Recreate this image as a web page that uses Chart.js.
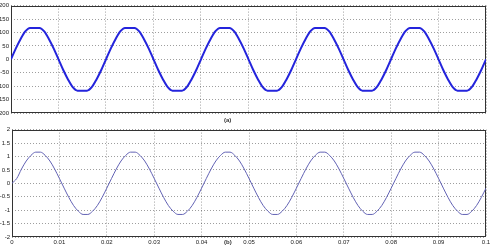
<!DOCTYPE html>
<html><head><meta charset="utf-8">
<script src="https://cdn.jsdelivr.net/npm/chart.js@4"></script>
<style>
html,body{margin:0;padding:0;background:#fff;overflow:hidden;width:493px;height:248px}
#a{position:absolute;left:0;top:0;width:493px;height:124px}
#b{position:absolute;left:0;top:124px;width:493px;height:124px}
.lbl{position:absolute;font:bold 6px "Liberation Sans",Arial,sans-serif;color:#333;line-height:7px}
</style></head><body>
<div id="a"><canvas id="ca"></canvas></div>
<div id="b"><canvas id="cb"></canvas></div>
<span class="lbl" id="la" style="left:224px;top:117px"></span>
<span class="lbl" id="lb" style="left:224px;top:239px"></span>
<script>
// ---- data (sampled every 0.001 s from t = 0 to 0.1 s) ----
const topVoltage = [
  0, 40, 75, 104, 117, 117, 117, 104, 75, 40, 0, -40, -75, -104, -117, -117, -117, -104, -75, -40,
  0, 40, 75, 104, 117, 117, 117, 104, 75, 40, 0, -40, -75, -104, -117, -117, -117, -104, -75, -40,
  0, 40, 75, 104, 117, 117, 117, 104, 75, 40, 0, -40, -75, -104, -117, -117, -117, -104, -75, -40,
  0, 40, 75, 104, 117, 117, 117, 104, 75, 40, 0, -40, -75, -104, -117, -117, -117, -104, -75, -40,
  0, 40, 75, 104, 117, 117, 117, 104, 75, 40, 0, -40, -75, -104, -117, -117, -117, -104, -75, -40,
  0
];
const bottomSignal = [
  0, 0.18, 0.53, 0.83, 1.04, 1.16, 1.16, 1.04, 0.83, 0.53, 0.18, -0.18, -0.53, -0.83, -1.04, -1.16, -1.16, -1.04, -0.83, -0.53,
  -0.18, 0.18, 0.53, 0.83, 1.04, 1.16, 1.16, 1.04, 0.83, 0.53, 0.18, -0.18, -0.53, -0.83, -1.04, -1.16, -1.16, -1.04, -0.83, -0.53,
  -0.18, 0.18, 0.53, 0.83, 1.04, 1.16, 1.16, 1.04, 0.83, 0.53, 0.18, -0.18, -0.53, -0.83, -1.04, -1.16, -1.16, -1.04, -0.83, -0.53,
  -0.18, 0.18, 0.53, 0.83, 1.04, 1.16, 1.16, 1.04, 0.83, 0.53, 0.18, -0.18, -0.53, -0.83, -1.04, -1.16, -1.16, -1.04, -0.83, -0.53,
  -0.18, 0.18, 0.53, 0.83, 1.04, 1.16, 1.16, 1.04, 0.83, 0.53, 0.18, -0.18, -0.53, -0.83, -1.04, -1.16, -1.16, -1.04, -0.83, -0.53,
  -0.18
];
const sampleStep = 0.001;
const xTickValues = [0, 0.01, 0.02, 0.03, 0.04, 0.05, 0.06, 0.07, 0.08, 0.09, 0.1];
const xTickLabels = ['0', '0.01', '0.02', '0.03', '0.04', '0.05', '0.06', '0.07', '0.08', '0.09', '0.1'];
const topYTicks = [200, 150, 100, 50, 0, -50, -100, -150, -200];
const bottomYTicks = [2, 1.5, 1, 0.5, 0, -0.5, -1, -1.5, -2];
const topLabel = '(a)';
const bottomLabel = '(b)';

document.getElementById('la').textContent = topLabel;
document.getElementById('lb').textContent = bottomLabel;

const FONT = {family: '"Liberation Sans", Arial, sans-serif', size: 6};
const TXT = '#222';
const GRID = 'rgba(0,0,0,0.38)';

const boxPlugin = {
  id: 'box',
  beforeDatasetsDraw(chart) {
    const {ctx, chartArea: a} = chart;
    ctx.save();
    ctx.strokeStyle = '#333';
    ctx.lineWidth = 1;
    ctx.strokeRect(Math.round(a.left) + 0.5, Math.round(a.top) + 0.5,
                   Math.round(a.right - a.left) - 1, Math.round(a.bottom - a.top) - 1);
    ctx.restore();
  }
};

function pts(arr) { return arr.map((v, i) => ({x: i * sampleStep, y: v})); }

function makeChart(id, data, yTicks, opts) {
  return new Chart(document.getElementById(id), {
    type: 'line',
    data: {datasets: [{
      data: pts(data),
      borderColor: opts.color,
      borderWidth: opts.width,
      pointRadius: 0,
      cubicInterpolationMode: 'monotone',
      fill: false
    }]},
    options: {
      responsive: true,
      maintainAspectRatio: false,
      animation: false,
      devicePixelRatio: 1,
      layout: {padding: {left: 0, right: 7, top: opts.padTop, bottom: 0}},
      plugins: {legend: {display: false}, tooltip: {enabled: false}},
      scales: {
        x: {
          type: 'linear', min: 0, max: 0.1,
          afterBuildTicks: s => { s.ticks = xTickValues.map(v => ({value: v})); },
          afterFit: s => { s.height = opts.xHeight; },
          ticks: {
            display: opts.showX, font: FONT, color: TXT, padding: 2, maxRotation: 0, autoSkip: false,
            callback: (v, i) => xTickLabels[i]
          },
          grid: {color: GRID, lineWidth: 1, drawTicks: false},
          border: {display: false, dash: [1, 2]}
        },
        y: {
          min: yTicks[yTicks.length - 1], max: yTicks[0],
          afterBuildTicks: s => { s.ticks = yTicks.slice().reverse().map(v => ({value: v})); },
          afterFit: s => { s.width = opts.yWidth; },
          ticks: {font: FONT, color: TXT, padding: 2, callback: v => String(v)},
          grid: {color: GRID, lineWidth: 1, drawTicks: false},
          border: {display: false, dash: [1, 2]}
        }
      }
    },
    plugins: [boxPlugin]
  });
}

makeChart('ca', topVoltage, topYTicks, {color: '#2424dc', width: 2, padTop: 5, xHeight: 11, yWidth: 11, showX: false});
makeChart('cb', bottomSignal, bottomYTicks, {color: '#6262b4', width: 1, padTop: 4, xHeight: 11, yWidth: 12, showX: true});
</script>
</body></html>
